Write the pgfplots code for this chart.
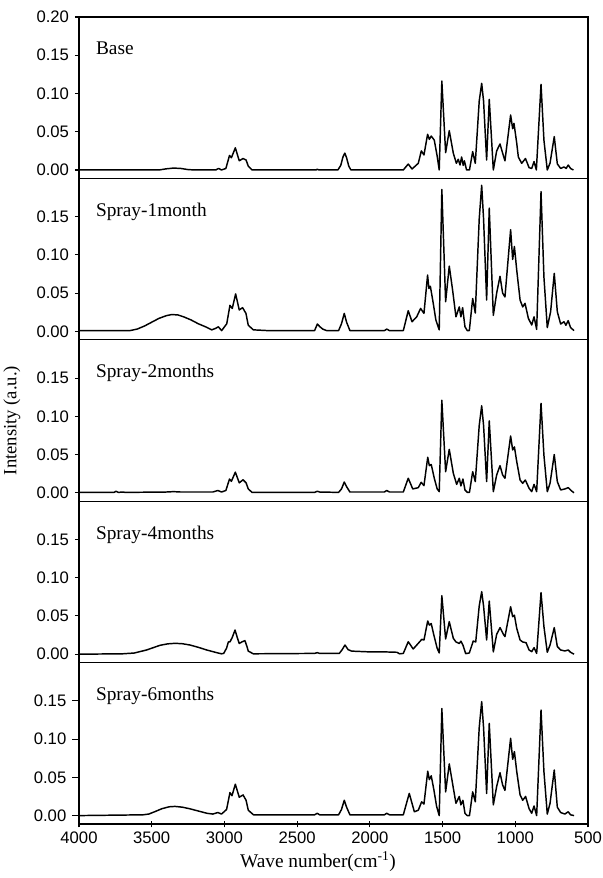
\documentclass[border=0pt]{standalone}
\usepackage{fontspec}
\setmainfont{Liberation Serif}
\setsansfont{Liberation Sans}
\usepackage{pgfplots}
\pgfplotsset{compat=1.18}

\tikzset{lbl/.style={anchor=base west, inner sep=0pt, font=\fontsize{14.5}{16}\selectfont}}
\pgfplotsset{
  spec/.style={
    scale only axis, width=381.75pt, height=121.05pt,
    anchor=south west,
    x dir=reverse, xmin=500, xmax=4000, ymin=-0.011, ymax=0.20,
    axis line style={line width=1pt},
    ytick={0,0.05,0.10,0.15},
    ytick pos=left,
    xtick=\empty,
    tick align=outside,
    major tick length=3pt,
    every tick/.style={black, line width=0.8pt},
    yticklabel style={font=\fontsize{12.5}{14}\selectfont\sffamily,
      /pgf/number format/fixed, /pgf/number format/fixed zerofill,
      /pgf/number format/precision=2, /pgf/number format/assume math mode=true, xshift=-1pt},
    clip=true,
  },
  sp/.style={black, line width=1.1pt, line join=round},
}

\begin{document}
\begin{tikzpicture}
\useasboundingbox (-59.25pt,-40.5pt) rectangle (393pt,618pt);

% ---------- Spray-6months (bottom) ----------
\begin{axis}[spec, at={(0pt,0pt)},
  xtick={500,1000,...,4000}, xtick pos=bottom,
  xticklabel style={font=\fontsize{12.5}{14}\selectfont\sffamily,
    /pgf/number format/1000 sep={}, /pgf/number format/assume math mode=true},
  x tick style={black, line width=0.8pt}, xtick align=center, major tick length=5pt]
\addplot[sp] coordinates {
(4000,0) (3560,0.001) (3520,0.002) (3480,0.005) (3430,0.009) (3380,0.0115) (3340,0.012) (3290,0.011) (3240,0.009) (3180,0.006) (3120,0.003) (3080,0.002) (3045,0.004) (3020,0.002) (2985,0.008) (2962,0.030) (2948,0.026) (2925,0.041) (2898,0.024) (2872,0.027) (2851,0.020) (2836,0.007) (2800,0.001) (2380,0.001) (2362,0.003) (2345,0.001) (2215,0.001) (2195,0.008) (2176,0.020) (2160,0.011) (2137,0.001) (1900,0.001) (1884,0.003) (1865,0.001) (1770,0.001)
(1729,0.029) (1694,0.005) (1667,0.007) (1644,0.018) (1628,0.015) (1602,0.058) (1591,0.047) (1578,0.052) (1560,0.034) (1541,0.012) (1523,0.0) (1505,0.140) (1479,0.031) (1454,0.0675) (1426,0.036) (1408,0.016) (1385,0.025) (1374,0.014) (1360,0.020) (1346,0.003) (1330,0) (1315,0) (1293,0.031) (1275,0.018) (1248,0.115) (1231,0.149) (1218,0.115) (1197,0.029) (1179,0.1206) (1151,0.014) (1128,0.038) (1105,0.056) (1087,0.040) (1071,0.033) (1032,0.101) (1018,0.0735) (1006,0.0836) (990,0.0575) (967,0.027) (949,0.020) (929,0.025) (905,0.009) (887,0.003) (871,0.0126) (853,0) (823,0.138) (803,0.0575) (780,0.002) (761,0.016) (732,0.0596) (711,0.011) (688,0.004) (659,0.002) (636,0.005) (620,0.001) (596,0)
};
\node[lbl] at (rel axis cs:0.033,0.765) {Spray-6months};
\end{axis}

% ---------- Spray-4months ----------
\begin{axis}[spec, at={(0pt,121.05pt)}]
\addplot[sp] coordinates {
(4000,0) (3700,0.0005) (3620,0.0015) (3535,0.0055) (3443,0.0116) (3390,0.0135) (3340,0.0142) (3290,0.0137) (3237,0.012) (3180,0.009) (3122,0.0055) (3053,0.002) (3020,0.0005) (3005,0.001) (2985,0.008) (2973,0.016) (2962,0.016) (2946,0.022) (2927,0.0316) (2912,0.022) (2898,0.014) (2880,0.016) (2859,0.0177) (2845,0.01) (2836,0.004) (2801,0.0005) (2380,0.001) (2362,0.002) (2345,0.001) (2210,0.001) (2190,0.006) (2171,0.012) (2150,0.006) (2125,0.004) (2000,0.003) (1900,0.003) (1815,0.0025) (1795,0.0005) (1770,0.001)
(1736,0.0163) (1702,0.0068) (1667,0.0142) (1643,0.0194) (1628,0.0185) (1602,0.0434) (1591,0.038) (1578,0.040) (1560,0.025) (1537,0.0077) (1523,0.0016) (1505,0.0765) (1479,0.0199) (1454,0.0425) (1426,0.0207) (1408,0.016) (1385,0.014) (1374,0.017) (1360,0.012) (1341,0.0007) (1316,0.0016) (1289,0.0172) (1272,0.016) (1248,0.063) (1231,0.0817) (1218,0.063) (1197,0.0186) (1179,0.0695) (1151,0.003) (1128,0.026) (1105,0.0347) (1082,0.026) (1071,0.023) (1032,0.0621) (1018,0.049) (1006,0.051) (990,0.0338) (967,0.0185) (949,0.016) (926,0.015) (905,0.0055) (887,0.0033) (871,0.0085) (853,0.001) (823,0.0804) (803,0.036) (780,0.0025) (761,0.012) (732,0.0347) (711,0.010) (688,0.0055) (659,0.0042) (636,0.0055) (620,0.0025) (596,0)
};
\node[lbl] at (rel axis cs:0.033,0.765) {Spray-4months};
\end{axis}

% ---------- Spray-2months ----------
\begin{axis}[spec, at={(0pt,242.1pt)}]
\addplot[sp] coordinates {
(4000,0.0005) (3760,0.0005) (3745,0.002) (3730,0.0005) (3700,0.001) (3680,0.0005) (3400,0.001) (3350,0.0015) (3300,0.001) (3080,0.001) (3045,0.003) (3020,0.001) (2990,0.003) (2965,0.018) (2952,0.015) (2925,0.027) (2898,0.013) (2872,0.017) (2851,0.013) (2836,0.005) (2810,0.0005) (2380,0.0005) (2362,0.002) (2345,0.001) (2215,0.0005) (2195,0.005) (2176,0.014) (2160,0.008) (2137,0.001) (1900,0.001) (1884,0.003) (1865,0.001) (1770,0.001)
(1736,0.019) (1705,0.005) (1667,0.0067) (1647,0.0137) (1628,0.0093) (1602,0.0464) (1591,0.0355) (1578,0.037) (1557,0.019) (1537,0.005) (1523,0.0015) (1505,0.121) (1479,0.0276) (1454,0.0568) (1426,0.0254) (1403,0.011) (1385,0.019) (1374,0.009) (1360,0.018) (1346,0.0037) (1330,0.0006) (1315,0.0006) (1293,0.0276) (1275,0.0146) (1248,0.088) (1231,0.1138) (1218,0.088) (1197,0.0146) (1179,0.094) (1151,0.0015) (1128,0.0233) (1105,0.0355) (1087,0.0233) (1071,0.019) (1032,0.0743) (1018,0.056) (1006,0.060) (990,0.0407) (967,0.0167) (949,0.0124) (931,0.0167) (905,0.0058) (887,0.0015) (871,0.011) (853,0.0015) (823,0.117) (803,0.049) (780,0.0015) (761,0.0124) (732,0.050) (711,0.0146) (688,0.0037) (659,0.005) (636,0.0067) (613,0.0024) (596,0)
};
\node[lbl] at (rel axis cs:0.033,0.765) {Spray-2months};
\end{axis}

% ---------- Spray-1month ----------
\begin{axis}[spec, at={(0pt,363.15pt)}]
\addplot[sp] coordinates {
(4000,0.001) (3650,0.001) (3600,0.003) (3550,0.007) (3500,0.012) (3450,0.017) (3400,0.0205) (3363,0.022) (3320,0.0215) (3280,0.019) (3230,0.015) (3180,0.010) (3130,0.006) (3087,0.002) (3060,0.004) (3042,0.006) (3019,0.001) (2984,0.010) (2962,0.034) (2946,0.030) (2923,0.049) (2898,0.028) (2875,0.031) (2852,0.0235) (2836,0.008) (2801,0.002) (2700,0.001) (2380,0.001) (2361,0.0096) (2343,0.006) (2324,0.003) (2297,0.001) (2215,0.001) (2195,0.01) (2176,0.0235) (2160,0.012) (2137,0.001) (1900,0.001) (1884,0.003) (1865,0.001) (1770,0.001)
(1736,0.027) (1710,0.0126) (1678,0.019) (1651,0.030) (1628,0.0235) (1603,0.0736) (1594,0.056) (1584,0.059) (1564,0.0366) (1546,0.0148) (1523,0.002) (1505,0.1856) (1479,0.0388) (1454,0.0854) (1431,0.054) (1408,0.019) (1385,0.032) (1374,0.019) (1362,0.031) (1346,0.006) (1330,0.001) (1316,0.001) (1293,0.043) (1275,0.024) (1248,0.147) (1231,0.191) (1218,0.147) (1197,0.041) (1179,0.161) (1151,0.021) (1128,0.050) (1105,0.072) (1087,0.050) (1071,0.045) (1032,0.133) (1018,0.094) (1006,0.111) (990,0.080) (967,0.041) (949,0.032) (933,0.0366) (910,0.017) (887,0.0083) (871,0.019) (853,0.0026) (823,0.1826) (803,0.071) (780,0.005) (757,0.0257) (732,0.0758) (711,0.0257) (688,0.0096) (665,0.0126) (652,0.008) (636,0.014) (620,0.005) (596,0.001)
};
\node[lbl] at (rel axis cs:0.033,0.765) {Spray-1month};
\end{axis}

% ---------- Base (top) ----------
\begin{axis}[spec, at={(0pt,484.2pt)}, ytick={0,0.05,0.10,0.15,0.20}]
\addplot[sp] coordinates {
(4000,0) (3450,0) (3400,0.0015) (3350,0.0025) (3300,0.002) (3250,0.0005) (3200,0) (3060,0) (3040,0.002) (3020,0) (2990,0.002) (2965,0.019) (2952,0.016) (2925,0.029) (2898,0.012) (2872,0.015) (2851,0.013) (2836,0.005) (2810,0) (2700,0) (2370,0) (2362,0.001) (2350,0) (2220,0) (2200,0.006) (2185,0.017) (2172,0.022) (2160,0.016) (2145,0.005) (2130,0) (1770,0)
(1736,0.0078) (1710,0.0013) (1667,0.0087) (1646,0.025) (1628,0.0196) (1603,0.0466) (1591,0.040) (1578,0.0444) (1557,0.039) (1537,0.018) (1523,0.0) (1505,0.1163) (1479,0.0227) (1454,0.0514) (1426,0.0218) (1405,0.0087) (1392,0.014) (1380,0.0065) (1369,0.017) (1358,0.006) (1350,0.012) (1335,0) (1315,0) (1293,0.024) (1275,0.0087) (1248,0.09) (1231,0.1133) (1218,0.09) (1197,0.013) (1179,0.0924) (1151,0) (1128,0.025) (1105,0.034) (1087,0.022) (1071,0.012) (1032,0.0719) (1018,0.054) (1009,0.061) (990,0.035) (979,0.017) (956,0.0087) (930,0.015) (905,0.003) (887,0.002) (871,0.011) (855,0) (823,0.112) (803,0.039) (780,0) (761,0.009) (732,0.0436) (711,0.008) (688,0.002) (665,0.004) (650,0.002) (636,0.0065) (620,0.002) (600,0)
};
\node[lbl] at (rel axis cs:0.033,0.765) {Base};
\end{axis}

\node[rotate=90, font=\fontsize{14}{16}\selectfont] at (-50.25pt,302.6pt) {Intensity (a.u.)};
\node[font=\fontsize{14.5}{16}\selectfont] at (179.25pt,-28.5pt) {Wave number(cm\textsuperscript{-1})};
\end{tikzpicture}
\end{document}
